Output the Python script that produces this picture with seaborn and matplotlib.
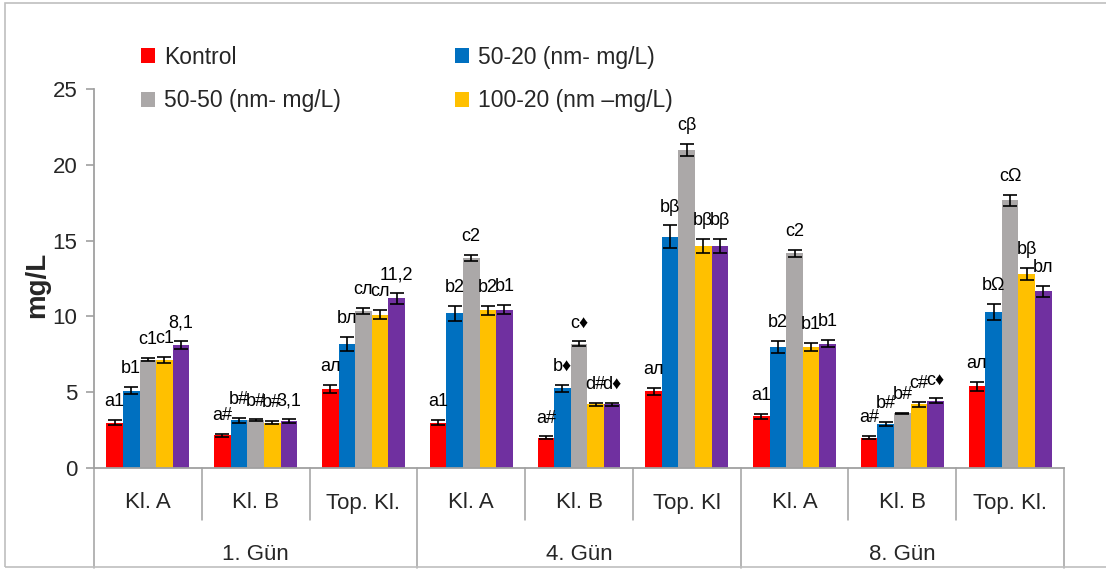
import numpy as np
import pandas as pd
import matplotlib
matplotlib.use("Agg")
import matplotlib.pyplot as plt
import matplotlib.transforms as mtransforms
from matplotlib.patches import Patch, Rectangle
from matplotlib.lines import Line2D
import seaborn as sns

# ---------------- data ----------------
days = ["1. Gün", "4. Gün", "8. Gün"]
site_labels = ["Kl. A", "Kl. B", "Top. Kl.", "Kl. A", "Kl. B", "Top. Kl",
               "Kl. A", "Kl. B", "Top. Kl."]

series_names = ["Kontrol", "50-20 (nm- mg/L)", "50-50 (nm- mg/L)",
                "100-20 (nm –mg/L)", "100-50 (nm- mg/L)"]
series_colors = ["#FF0000", "#0070C0", "#ABA8A8", "#FFC000", "#7030A0"]

kontrol = [3.0, 2.15, 5.2, 3.0, 2.0, 5.05, 3.4, 2.0, 5.4]
s50_20 = [5.1, 3.15, 8.2, 10.2, 5.25, 15.25, 8.0, 2.9, 10.3]
s50_50 = [7.15, 3.15, 10.35, 13.85, 8.2, 21.0, 14.15, 3.6, 17.65]
s100_20 = [7.1, 3.0, 10.1, 10.4, 4.2, 14.65, 8.0, 4.2, 12.8]
s100_50 = [8.1, 3.1, 11.2, 10.45, 4.2, 14.65, 8.2, 4.45, 11.65]

err_kontrol = [0.15, 0.12, 0.25, 0.15, 0.08, 0.25, 0.15, 0.1, 0.3]
err_50_20 = [0.25, 0.15, 0.45, 0.5, 0.25, 0.75, 0.4, 0.15, 0.55]
err_50_50 = [0.12, 0.05, 0.2, 0.2, 0.15, 0.4, 0.25, 0.05, 0.35]
err_100_20 = [0.2, 0.08, 0.3, 0.3, 0.1, 0.45, 0.25, 0.15, 0.4]
err_100_50 = [0.25, 0.1, 0.35, 0.3, 0.1, 0.45, 0.25, 0.15, 0.35]

lab_kontrol = ["a1", "a#", "aл", "a1", "a#", "aл", "a1", "a#", "aл"]
lab_50_20 = ["b1", "b#", "bл", "b2", "b♦", "bβ", "b2", "b#", "bΩ"]
lab_50_50 = ["c1", "b#", "cл", "c2", "c♦", "cβ", "c2", "b#", "cΩ"]
lab_100_20 = ["c1", "b#", "cл", "b2", "d#", "bβ", "b1", "c#", "bβ"]
lab_100_50 = ["8,1", "3,1", "11,2", "b1", "d♦", "bβ", "b1", "c♦", "bл"]

y_ticks = [0, 5, 10, 15, 20, 25]
y_label = "mg/L"

values = [kontrol, s50_20, s50_50, s100_20, s100_50]
errors = [err_kontrol, err_50_20, err_50_50, err_100_20, err_100_50]
labels = [lab_kontrol, lab_50_20, lab_50_50, lab_100_20, lab_100_50]

cat_keys = [f"{days[i // 3]}|{site_labels[i]}|{i}" for i in range(9)]
rows = []
for sname, vals in zip(series_names, values):
    for k, v in zip(cat_keys, vals):
        rows.append({"cat": k, "series": sname, "value": v})
df = pd.DataFrame(rows)

# ---------------- style ----------------
sns.set_style("white")
FAM = ["Liberation Sans", "DejaVu Sans"]
plt.rcParams["font.family"] = FAM
GRAY = "#A0A0A0"

W, H = 1106, 570
fig = plt.figure(figsize=(W / 100, H / 100), dpi=100)
ax_left, ax_right = 94 / W, 1064 / W
ax_bottom, ax_top = 1 - 468 / H, 1 - 89 / H
ax = fig.add_axes([ax_left, ax_bottom, ax_right - ax_left, ax_top - ax_bottom])

sns.barplot(data=df, x="cat", y="value", hue="series", order=cat_keys,
            hue_order=series_names, palette=series_colors, errorbar=None,
            width=0.77, gap=0, linewidth=0, saturation=1, ax=ax, legend=False)

# error bars and data labels
for cont, errs, labs in zip(ax.containers, errors, labels):
    xs = [p.get_x() + p.get_width() / 2 for p in cont.patches]
    ys = [p.get_height() for p in cont.patches]
    ax.errorbar(xs, ys, yerr=errs, fmt="none", ecolor="black",
                elinewidth=1.2, capsize=5, capthick=1.2, zorder=5)
    for x, y, e, t in zip(xs, ys, errs, labs):
        ax.annotate(t, (x, y + e), xytext=(0, 10), textcoords="offset points",
                    ha="center", va="baseline", fontsize=13, family=FAM,
                    color="black", zorder=6)

ax.set_xlim(-0.5, 8.5)
ax.set_ylim(0, 25)
ax.set_yticks(y_ticks)
ax.set_yticklabels([str(t) for t in y_ticks], fontsize=16)
ax.set_xticks([])
ax.set_xlabel("")
ax.set_ylabel("")
ax.tick_params(axis="y", which="major", direction="out", length=6,
               width=1.2, color=GRAY, pad=6, left=True)
for s in ["top", "right"]:
    ax.spines[s].set_visible(False)
ax.spines["left"].set_color(GRAY)
ax.spines["left"].set_linewidth(1.3)
ax.spines["bottom"].set_color(GRAY)
ax.spines["bottom"].set_linewidth(1.3)

# y label
fig.text(37 / W, 1 - 285 / H, y_label, rotation=90, fontsize=20,
         fontweight="bold", ha="center", va="center", family=FAM)

# hierarchical category axis
trans = mtransforms.blended_transform_factory(ax.transData, fig.transFigure)
y_axis = 1 - 468 / H
y_sub = 1 - 520 / H
y_full = 1 - 568 / H
for b in range(10):
    xb = b - 0.5
    y_end = y_full if b % 3 == 0 else y_sub
    ax.add_line(Line2D([xb, xb], [y_axis, y_end], transform=trans,
                       color=GRAY, lw=1.1, clip_on=False))
for i, lab in enumerate(site_labels):
    ax.text(i, 1 - 503 / H, lab, transform=trans, ha="center", va="center",
            fontsize=16, family=FAM)
for d, lab in enumerate(days):
    ax.text(3 * d + 1, 1 - 554 / H, lab, transform=trans, ha="center",
            va="center", fontsize=16, family=FAM)

# legend (first four series only)
handles = [Patch(facecolor=c, edgecolor="none") for c in series_colors[:4]]
order = [0, 2, 1, 3]
leg = fig.legend([handles[i] for i in order], [series_names[i] for i in order],
                 ncol=2, loc="center left",
                 bbox_to_anchor=(141 / W, 1 - 79 / H),
                 frameon=False, fontsize=16.5, handlelength=0.6,
                 handleheight=0.6, handletextpad=0.4, columnspacing=5.0,
                 labelspacing=0.9, borderpad=0, borderaxespad=0)

# chart border
fig.add_artist(Rectangle((5 / W, 3 / H), 1.2, 1 - 6 / H, transform=fig.transFigure,
                         fill=False, edgecolor="#BFBFBF", lw=1.2))

fig.savefig("out.png", dpi=100)
